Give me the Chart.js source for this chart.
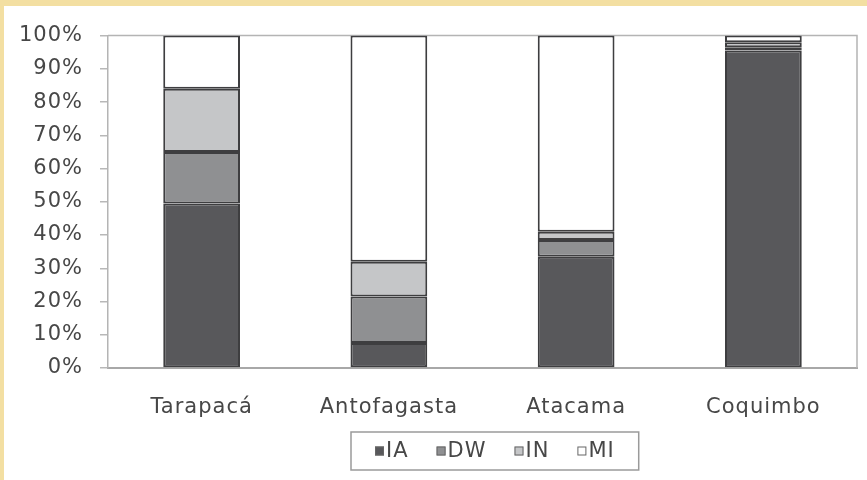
<!DOCTYPE html>
<html>
<head>
<meta charset="utf-8">
<script src="https://cdn.jsdelivr.net/npm/chart.js@4"></script>
<style>
  html, body { margin: 0; padding: 0; background: #ffffff; }
  #frame {
    width: 863px; height: 474px;
    border-top: 6px solid #f3dfa2;
    border-left: 4px solid #f3dfa2;
    background: #ffffff;
  }
  canvas { display: block; }
</style>
</head>
<body>
<div id="frame"><canvas id="c" width="863" height="474"></canvas></div>
<script>
// Regions shown along the category axis
const regions = ['Tarapacá', 'Antofagasta', 'Atacama', 'Coquimbo'];

// Share of each group per region (percent, stacked to 100)
const seriesIA = [49.5, 7.5, 33.5, 95.5];
const seriesDW = [15.5, 14.0, 5.0, 1.0];
const seriesIN = [19.0, 10.5, 2.5, 1.5];
const seriesMI = [16.0, 68.0, 59.0, 2.0];

// Percentage axis ticks
const yTicks = [0, 10, 20, 30, 40, 50, 60, 70, 80, 90, 100];

const FONT = 'DejaVu Sans';
const TEXT = '#474747';

// Slightly wider lettering for the axis labels
const wideText = {
  id: 'wideText',
  beforeUpdate(chart) { chart.ctx.letterSpacing = '1px'; },
  beforeDraw(chart) { chart.ctx.letterSpacing = '1px'; }
};

// Frame round the plot area (top and right edges)
const plotFrame = {
  id: 'plotFrame',
  beforeDatasetsDraw(chart) {
    const { ctx, chartArea: a } = chart;
    ctx.save();
    ctx.strokeStyle = '#b4b4b4';
    ctx.lineWidth = 1.5;
    ctx.beginPath();
    ctx.moveTo(a.left, a.top);
    ctx.lineTo(a.right, a.top);
    ctx.lineTo(a.right, a.bottom);
    ctx.stroke();
    ctx.restore();
  }
};

// Boxed legend drawn below the category labels
const boxedLegend = {
  id: 'boxedLegend',
  afterDraw(chart) {
    const { ctx, chartArea: a } = chart;
    const ds = chart.data.datasets;
    ctx.save();
    ctx.font = '21px "' + FONT + '"';
    ctx.letterSpacing = '1px';
    const sq = 9, gap = 2, spacing = 28, padX = 24;
    const widths = ds.map(d => sq + gap + ctx.measureText(d.label).width);
    const inner = widths.reduce((s, w) => s + w, 0) + spacing * (ds.length - 1);
    const boxW = inner + padX * 2, boxH = 38;
    const cx = (a.left + a.right) / 2 + 12;
    const bx = Math.round(cx - boxW / 2), by = 426;
    ctx.strokeStyle = '#9a9a9a';
    ctx.lineWidth = 1.5;
    ctx.strokeRect(bx, by, boxW, boxH);
    let x = bx + padX;
    const cy = by + boxH / 2;
    ds.forEach((d, i) => {
      ctx.fillStyle = d.backgroundColor;
      ctx.fillRect(x, cy - sq / 2, sq, sq);
      ctx.strokeStyle = '#666';
      ctx.lineWidth = 1;
      ctx.strokeRect(x + 0.5, cy - sq / 2 + 0.5, sq - 1, sq - 1);
      ctx.fillStyle = TEXT;
      ctx.textBaseline = 'middle';
      ctx.textAlign = 'left';
      ctx.fillText(d.label, x + sq + gap, cy + 1);
      x += widths[i] + spacing;
    });
    ctx.restore();
  }
};

const mk = (label, data, color) => ({
  label, data,
  backgroundColor: color,
  borderColor: '#3e3e40',
  borderWidth: 2,
  borderSkipped: false,
  categoryPercentage: 1.0,
  barPercentage: 0.41
});

new Chart(document.getElementById('c'), {
  type: 'bar',
  data: {
    labels: regions,
    datasets: [
      mk('IA', seriesIA, '#58585b'),
      mk('DW', seriesDW, '#8f9092'),
      mk('IN', seriesIN, '#c5c6c8'),
      mk('MI', seriesMI, '#ffffff')
    ]
  },
  options: {
    responsive: false,
    animation: false,
    layout: { padding: { top: 28, right: 10, left: 0, bottom: 0 } },
    plugins: { legend: { display: false }, tooltip: { enabled: false } },
    scales: {
      x: {
        stacked: true,
        offset: true,
        grid: { display: false, drawTicks: false },
        border: { display: true, color: '#a8a8a8', width: 2 },
        ticks: { color: TEXT, font: { family: FONT, size: 21 }, padding: 27, maxRotation: 0 },
        afterFit(s) { s.height = 112; }
      },
      y: {
        stacked: true,
        min: 0, max: 100,
        afterBuildTicks(s) { s.ticks = yTicks.map(v => ({ value: v })); },
        grid: { drawOnChartArea: false, drawTicks: true, tickLength: 8, color: '#b8b8b8', lineWidth: 1.5 },
        border: { display: true, color: '#b4b4b4', width: 1.5 },
        ticks: { color: TEXT, font: { family: FONT, size: 21 }, padding: 17, callback: v => v + '%' },
        afterFit(s) { s.width = 104; }
      }
    }
  },
  plugins: [wideText, plotFrame, boxedLegend]
});
</script>
</body>
</html>
